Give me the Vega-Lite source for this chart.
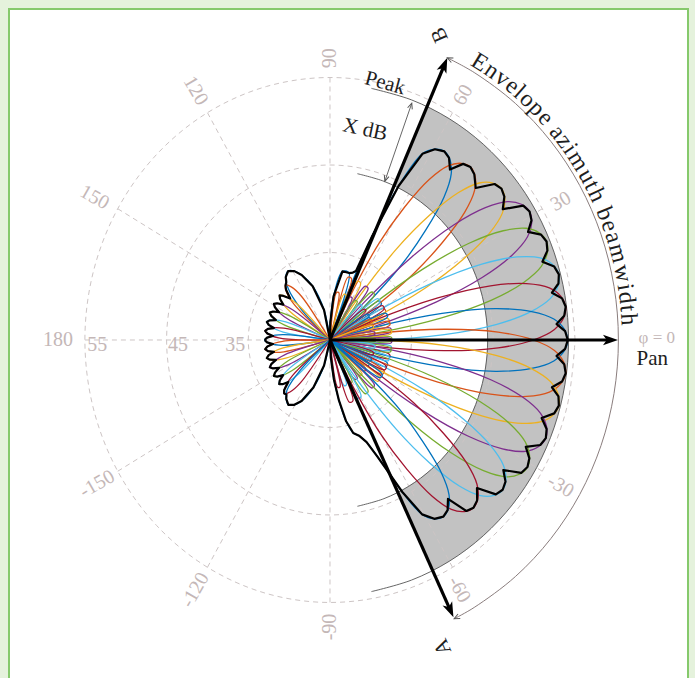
{
"$schema":"https://vega.github.io/schema/vega-lite/v6.json",
"width":679,"height":680,
"autosize":{"type":"none"},
"padding":{"left":9,"top":9,"right":7,"bottom":0},
"background":"#e5f2dc",
"config":{"view":{"fill":"#ffffff","stroke":"#86c96c","strokeWidth":2}},
"datasets":{
"sector":[
{"i":0,"a":-64.5,"r":29.2},{"i":1,"a":-60,"r":29.2},{"i":2,"a":-55,"r":29.2},{"i":3,"a":-50,"r":29.2},{"i":4,"a":-45,"r":29.2},{"i":5,"a":-40,"r":29.2},{"i":6,"a":-35,"r":29.2},{"i":7,"a":-30,"r":29.2},{"i":8,"a":-25,"r":29.2},{"i":9,"a":-20,"r":29.2},{"i":10,"a":-15,"r":29.2},{"i":11,"a":-10,"r":29.2},{"i":12,"a":-5,"r":29.2},{"i":13,"a":0,"r":29.2},{"i":14,"a":5,"r":29.2},{"i":15,"a":10,"r":29.2},{"i":16,"a":15,"r":29.2},{"i":17,"a":20,"r":29.2},{"i":18,"a":25,"r":29.2},{"i":19,"a":30,"r":29.2},{"i":20,"a":35,"r":29.2},{"i":21,"a":40,"r":29.2},{"i":22,"a":45,"r":29.2},{"i":23,"a":50,"r":29.2},{"i":24,"a":55,"r":29.2},{"i":25,"a":60,"r":29.2},{"i":26,"a":65,"r":29.2},{"i":27,"a":66,"r":29.2},
{"i":28,"a":66,"r":19.3},{"i":29,"a":65,"r":19.3},{"i":30,"a":60,"r":19.3},{"i":31,"a":55,"r":19.3},{"i":32,"a":50,"r":19.3},{"i":33,"a":45,"r":19.3},{"i":34,"a":40,"r":19.3},{"i":35,"a":35,"r":19.3},{"i":36,"a":30,"r":19.3},{"i":37,"a":25,"r":19.3},{"i":38,"a":20,"r":19.3},{"i":39,"a":15,"r":19.3},{"i":40,"a":10,"r":19.3},{"i":41,"a":5,"r":19.3},{"i":42,"a":0,"r":19.3},{"i":43,"a":-5,"r":19.3},{"i":44,"a":-10,"r":19.3},{"i":45,"a":-15,"r":19.3},{"i":46,"a":-20,"r":19.3},{"i":47,"a":-25,"r":19.3},{"i":48,"a":-30,"r":19.3},{"i":49,"a":-35,"r":19.3},{"i":50,"a":-40,"r":19.3},{"i":51,"a":-45,"r":19.3},{"i":52,"a":-50,"r":19.3},{"i":53,"a":-55,"r":19.3},{"i":54,"a":-60,"r":19.3},{"i":55,"a":-64.5,"r":19.3}
],
"grid":[
{"k":"c10","a":0,"r":10},{"k":"c10","a":15,"r":10},{"k":"c10","a":30,"r":10},{"k":"c10","a":45,"r":10},{"k":"c10","a":60,"r":10},{"k":"c10","a":75,"r":10},{"k":"c10","a":90,"r":10},{"k":"c10","a":105,"r":10},{"k":"c10","a":120,"r":10},{"k":"c10","a":135,"r":10},{"k":"c10","a":150,"r":10},{"k":"c10","a":165,"r":10},{"k":"c10","a":180,"r":10},{"k":"c10","a":195,"r":10},{"k":"c10","a":210,"r":10},{"k":"c10","a":225,"r":10},{"k":"c10","a":240,"r":10},{"k":"c10","a":255,"r":10},{"k":"c10","a":270,"r":10},{"k":"c10","a":285,"r":10},{"k":"c10","a":300,"r":10},{"k":"c10","a":315,"r":10},{"k":"c10","a":330,"r":10},{"k":"c10","a":345,"r":10},{"k":"c10","a":360,"r":10},
{"k":"c20","a":0,"r":20},{"k":"c20","a":15,"r":20},{"k":"c20","a":30,"r":20},{"k":"c20","a":45,"r":20},{"k":"c20","a":60,"r":20},{"k":"c20","a":75,"r":20},{"k":"c20","a":90,"r":20},{"k":"c20","a":105,"r":20},{"k":"c20","a":120,"r":20},{"k":"c20","a":135,"r":20},{"k":"c20","a":150,"r":20},{"k":"c20","a":165,"r":20},{"k":"c20","a":180,"r":20},{"k":"c20","a":195,"r":20},{"k":"c20","a":210,"r":20},{"k":"c20","a":225,"r":20},{"k":"c20","a":240,"r":20},{"k":"c20","a":255,"r":20},{"k":"c20","a":270,"r":20},{"k":"c20","a":285,"r":20},{"k":"c20","a":300,"r":20},{"k":"c20","a":315,"r":20},{"k":"c20","a":330,"r":20},{"k":"c20","a":345,"r":20},{"k":"c20","a":360,"r":20},
{"k":"c30","a":0,"r":30},{"k":"c30","a":15,"r":30},{"k":"c30","a":30,"r":30},{"k":"c30","a":45,"r":30},{"k":"c30","a":60,"r":30},{"k":"c30","a":75,"r":30},{"k":"c30","a":90,"r":30},{"k":"c30","a":105,"r":30},{"k":"c30","a":120,"r":30},{"k":"c30","a":135,"r":30},{"k":"c30","a":150,"r":30},{"k":"c30","a":165,"r":30},{"k":"c30","a":180,"r":30},{"k":"c30","a":195,"r":30},{"k":"c30","a":210,"r":30},{"k":"c30","a":225,"r":30},{"k":"c30","a":240,"r":30},{"k":"c30","a":255,"r":30},{"k":"c30","a":270,"r":30},{"k":"c30","a":285,"r":30},{"k":"c30","a":300,"r":30},{"k":"c30","a":315,"r":30},{"k":"c30","a":330,"r":30},{"k":"c30","a":345,"r":30},{"k":"c30","a":360,"r":30}
],
"spokes":[{"a":0,"r":30},{"a":30,"r":30},{"a":60,"r":30},{"a":90,"r":30},{"a":120,"r":30},{"a":150,"r":30},{"a":180,"r":30},{"a":210,"r":30},{"a":240,"r":30},{"a":270,"r":30},{"a":300,"r":30},{"a":330,"r":30}],
"arcs":[
{"k":"pk","a":-80,"r":29.2},{"k":"pk","a":-70,"r":29.2},{"k":"pk","a":-60,"r":29.2},{"k":"pk","a":-50,"r":29.2},{"k":"pk","a":-40,"r":29.2},{"k":"pk","a":-30,"r":29.2},{"k":"pk","a":-20,"r":29.2},{"k":"pk","a":-10,"r":29.2},{"k":"pk","a":0,"r":29.2},{"k":"pk","a":10,"r":29.2},{"k":"pk","a":20,"r":29.2},{"k":"pk","a":30,"r":29.2},{"k":"pk","a":40,"r":29.2},{"k":"pk","a":50,"r":29.2},{"k":"pk","a":60,"r":29.2},{"k":"pk","a":70,"r":29.2},{"k":"pk","a":80,"r":29.2},
{"k":"in","a":-80,"r":19.3},{"k":"in","a":-70,"r":19.3},{"k":"in","a":-60,"r":19.3},{"k":"in","a":-50,"r":19.3},{"k":"in","a":-40,"r":19.3},{"k":"in","a":-30,"r":19.3},{"k":"in","a":-20,"r":19.3},{"k":"in","a":-10,"r":19.3},{"k":"in","a":0,"r":19.3},{"k":"in","a":10,"r":19.3},{"k":"in","a":20,"r":19.3},{"k":"in","a":30,"r":19.3},{"k":"in","a":40,"r":19.3},{"k":"in","a":50,"r":19.3},{"k":"in","a":60,"r":19.3},{"k":"in","a":70,"r":19.3},{"k":"in","a":80,"r":19.3},
{"k":"xdb","a":69.7,"r":19.4},{"k":"xdb","a":69.7,"r":28.8},
{"k":"bw","a":-64.5,"r":35.3},{"k":"bw","a":-60,"r":35.3},{"k":"bw","a":-50,"r":35.3},{"k":"bw","a":-40,"r":35.3},{"k":"bw","a":-30,"r":35.3},{"k":"bw","a":-20,"r":35.3},{"k":"bw","a":-10,"r":35.3},{"k":"bw","a":0,"r":35.3},{"k":"bw","a":10,"r":35.3},{"k":"bw","a":20,"r":35.3},{"k":"bw","a":30,"r":35.3},{"k":"bw","a":40,"r":35.3},{"k":"bw","a":50,"r":35.3},{"k":"bw","a":60,"r":35.3},{"k":"bw","a":66,"r":35.3}
],
"beams":[
{"b":1,"a":22,"r":0},{"b":1,"a":24.5,"r":5.5},{"b":1,"a":27.5,"r":5.5},{"b":1,"a":30.25,"r":0},{"b":1,"a":33,"r":7.5},{"b":1,"a":36.5,"r":7.5},{"b":1,"a":40,"r":0},{"b":1,"a":42,"r":5.1},{"b":1,"a":44.5,"r":12.35},{"b":1,"a":47,"r":17.2},{"b":1,"a":49.5,"r":21.5},{"b":1,"a":52,"r":24.1},{"b":1,"a":54.5,"r":25.3},{"b":1,"a":57,"r":25.7},{"b":1,"a":59.5,"r":25.3},{"b":1,"a":62,"r":24.1},{"b":1,"a":64.5,"r":19.5},{"b":1,"a":66.5,"r":13},{"b":1,"a":68,"r":6},{"b":1,"a":69.5,"r":0},{"b":1,"a":73,"r":8},{"b":1,"a":79,"r":8},{"b":1,"a":85,"r":5},{"b":1,"a":89,"r":2},{"b":1,"a":91,"r":0},
{"b":1,"a":96,"r":0},{"b":1,"a":102,"r":3.5},{"b":1,"a":109,"r":6.5},{"b":1,"a":115,"r":8.2},{"b":1,"a":119,"r":9},{"b":1,"a":123,"r":9.4},{"b":1,"a":127,"r":9},{"b":1,"a":131,"r":7.8},{"b":1,"a":135,"r":5},{"b":1,"a":139,"r":0},
{"b":2,"a":14,"r":0},{"b":2,"a":16.5,"r":5.5},{"b":2,"a":19.5,"r":5.5},{"b":2,"a":22.25,"r":0},{"b":2,"a":25,"r":7.5},{"b":2,"a":28.5,"r":7.5},{"b":2,"a":32,"r":0},{"b":2,"a":34,"r":5.2},{"b":2,"a":36.5,"r":12.6},{"b":2,"a":39,"r":17.7},{"b":2,"a":41.5,"r":22},{"b":2,"a":44,"r":24.6},{"b":2,"a":46.5,"r":25.8},{"b":2,"a":49,"r":26.2},{"b":2,"a":51.5,"r":25.8},{"b":2,"a":54,"r":24.6},{"b":2,"a":56.5,"r":22},{"b":2,"a":59,"r":17.7},{"b":2,"a":61.5,"r":12.6},{"b":2,"a":64,"r":5.2},{"b":2,"a":66,"r":0},{"b":2,"a":69.5,"r":7.5},{"b":2,"a":73,"r":7.5},{"b":2,"a":75.75,"r":0},{"b":2,"a":78.5,"r":5.5},{"b":2,"a":81.5,"r":5.5},{"b":2,"a":84,"r":0},
{"b":2,"a":121,"r":0},{"b":2,"a":125,"r":6.1},{"b":2,"a":128,"r":7.7},{"b":2,"a":131,"r":8.3},{"b":2,"a":134,"r":7.7},{"b":2,"a":137,"r":6.1},{"b":2,"a":141,"r":0},
{"b":3,"a":4.5,"r":0},{"b":3,"a":7,"r":5.5},{"b":3,"a":10,"r":5.5},{"b":3,"a":12.75,"r":0},{"b":3,"a":15.5,"r":7.5},{"b":3,"a":19,"r":7.5},{"b":3,"a":22.5,"r":0},{"b":3,"a":24.5,"r":5.4},{"b":3,"a":27,"r":13.1},{"b":3,"a":29.5,"r":18.7},{"b":3,"a":32,"r":23},{"b":3,"a":34.5,"r":25.6},{"b":3,"a":37,"r":26.8},{"b":3,"a":39.5,"r":27.2},{"b":3,"a":42,"r":26.8},{"b":3,"a":44.5,"r":25.6},{"b":3,"a":47,"r":23},{"b":3,"a":49.5,"r":18.7},{"b":3,"a":52,"r":13.1},{"b":3,"a":54.5,"r":5.4},{"b":3,"a":56.5,"r":0},{"b":3,"a":60,"r":7.5},{"b":3,"a":63.5,"r":7.5},{"b":3,"a":66.25,"r":0},{"b":3,"a":69,"r":5.5},{"b":3,"a":72,"r":5.5},{"b":3,"a":74.5,"r":0},
{"b":3,"a":130.5,"r":0},{"b":3,"a":134.5,"r":5.8},{"b":3,"a":137.5,"r":7.4},{"b":3,"a":140.5,"r":8},{"b":3,"a":143.5,"r":7.4},{"b":3,"a":146.5,"r":5.8},{"b":3,"a":150.5,"r":0},
{"b":4,"a":-4,"r":0},{"b":4,"a":-1.5,"r":5.5},{"b":4,"a":1.5,"r":5.5},{"b":4,"a":4.25,"r":0},{"b":4,"a":7,"r":7.5},{"b":4,"a":10.5,"r":7.5},{"b":4,"a":14,"r":0},{"b":4,"a":16,"r":5.7},{"b":4,"a":18.5,"r":13.75},{"b":4,"a":21,"r":20},{"b":4,"a":23.5,"r":24.3},{"b":4,"a":26,"r":26.9},{"b":4,"a":28.5,"r":28.1},{"b":4,"a":31,"r":28.5},{"b":4,"a":33.5,"r":28.1},{"b":4,"a":36,"r":26.9},{"b":4,"a":38.5,"r":24.3},{"b":4,"a":41,"r":20},{"b":4,"a":43.5,"r":13.75},{"b":4,"a":46,"r":5.7},{"b":4,"a":48,"r":0},{"b":4,"a":51.5,"r":7.5},{"b":4,"a":55,"r":7.5},{"b":4,"a":57.75,"r":0},{"b":4,"a":60.5,"r":5.5},{"b":4,"a":63.5,"r":5.5},{"b":4,"a":66,"r":0},
{"b":4,"a":139,"r":0},{"b":4,"a":143,"r":5.8},{"b":4,"a":146,"r":7.4},{"b":4,"a":149,"r":8},{"b":4,"a":152,"r":7.4},{"b":4,"a":155,"r":5.8},{"b":4,"a":159,"r":0},
{"b":5,"a":-12,"r":0},{"b":5,"a":-9.5,"r":5.5},{"b":5,"a":-6.5,"r":5.5},{"b":5,"a":-3.75,"r":0},{"b":5,"a":-1,"r":7.5},{"b":5,"a":2.5,"r":7.5},{"b":5,"a":6,"r":0},{"b":5,"a":8,"r":5.8},{"b":5,"a":10.5,"r":13.9},{"b":5,"a":13,"r":20.3},{"b":5,"a":15.5,"r":24.6},{"b":5,"a":18,"r":27.2},{"b":5,"a":20.5,"r":28.4},{"b":5,"a":23,"r":28.8},{"b":5,"a":25.5,"r":28.4},{"b":5,"a":28,"r":27.2},{"b":5,"a":30.5,"r":24.6},{"b":5,"a":33,"r":20.3},{"b":5,"a":35.5,"r":13.9},{"b":5,"a":38,"r":5.8},{"b":5,"a":40,"r":0},{"b":5,"a":43.5,"r":7.5},{"b":5,"a":47,"r":7.5},{"b":5,"a":49.75,"r":0},{"b":5,"a":52.5,"r":5.5},{"b":5,"a":55.5,"r":5.5},{"b":5,"a":58,"r":0},
{"b":5,"a":147,"r":0},{"b":5,"a":151,"r":5.8},{"b":5,"a":154,"r":7.4},{"b":5,"a":157,"r":8},{"b":5,"a":160,"r":7.4},{"b":5,"a":163,"r":5.8},{"b":5,"a":167,"r":0},
{"b":6,"a":-20,"r":0},{"b":6,"a":-17.5,"r":5.5},{"b":6,"a":-14.5,"r":5.5},{"b":6,"a":-11.75,"r":0},{"b":6,"a":-9,"r":7.5},{"b":6,"a":-5.5,"r":7.5},{"b":6,"a":-2,"r":0},{"b":6,"a":0,"r":5.8},{"b":6,"a":2.5,"r":14},{"b":6,"a":5,"r":20.5},{"b":6,"a":7.5,"r":24.8},{"b":6,"a":10,"r":27.4},{"b":6,"a":12.5,"r":28.6},{"b":6,"a":15,"r":29},{"b":6,"a":17.5,"r":28.6},{"b":6,"a":20,"r":27.4},{"b":6,"a":22.5,"r":24.8},{"b":6,"a":25,"r":20.5},{"b":6,"a":27.5,"r":14},{"b":6,"a":30,"r":5.8},{"b":6,"a":32,"r":0},{"b":6,"a":35.5,"r":7.5},{"b":6,"a":39,"r":7.5},{"b":6,"a":41.75,"r":0},{"b":6,"a":44.5,"r":5.5},{"b":6,"a":47.5,"r":5.5},{"b":6,"a":50,"r":0},
{"b":6,"a":155,"r":0},{"b":6,"a":159,"r":5.8},{"b":6,"a":162,"r":7.4},{"b":6,"a":165,"r":8},{"b":6,"a":168,"r":7.4},{"b":6,"a":171,"r":5.8},{"b":6,"a":175,"r":0},
{"b":7,"a":-27.5,"r":0},{"b":7,"a":-25,"r":5.5},{"b":7,"a":-22,"r":5.5},{"b":7,"a":-19.25,"r":0},{"b":7,"a":-16.5,"r":7.5},{"b":7,"a":-13,"r":7.5},{"b":7,"a":-9.5,"r":0},{"b":7,"a":-7.5,"r":5.8},{"b":7,"a":-5,"r":14.05},{"b":7,"a":-2.5,"r":20.6},{"b":7,"a":0,"r":24.9},{"b":7,"a":2.5,"r":27.5},{"b":7,"a":5,"r":28.7},{"b":7,"a":7.5,"r":29.1},{"b":7,"a":10,"r":28.7},{"b":7,"a":12.5,"r":27.5},{"b":7,"a":15,"r":24.9},{"b":7,"a":17.5,"r":20.6},{"b":7,"a":20,"r":14.05},{"b":7,"a":22.5,"r":5.8},{"b":7,"a":24.5,"r":0},{"b":7,"a":28,"r":7.5},{"b":7,"a":31.5,"r":7.5},{"b":7,"a":34.25,"r":0},{"b":7,"a":37,"r":5.5},{"b":7,"a":40,"r":5.5},{"b":7,"a":42.5,"r":0},
{"b":7,"a":162.5,"r":0},{"b":7,"a":166.5,"r":5.8},{"b":7,"a":169.5,"r":7.4},{"b":7,"a":172.5,"r":8},{"b":7,"a":175.5,"r":7.4},{"b":7,"a":178.5,"r":5.8},{"b":7,"a":182.5,"r":0},
{"b":8,"a":-35,"r":0},{"b":8,"a":-32.5,"r":5.5},{"b":8,"a":-29.5,"r":5.5},{"b":8,"a":-26.75,"r":0},{"b":8,"a":-24,"r":7.5},{"b":8,"a":-20.5,"r":7.5},{"b":8,"a":-17,"r":0},{"b":8,"a":-15,"r":5.8},{"b":8,"a":-12.5,"r":14.05},{"b":8,"a":-10,"r":20.6},{"b":8,"a":-7.5,"r":24.9},{"b":8,"a":-5,"r":27.5},{"b":8,"a":-2.5,"r":28.7},{"b":8,"a":0,"r":29.1},{"b":8,"a":2.5,"r":28.7},{"b":8,"a":5,"r":27.5},{"b":8,"a":7.5,"r":24.9},{"b":8,"a":10,"r":20.6},{"b":8,"a":12.5,"r":14.05},{"b":8,"a":15,"r":5.8},{"b":8,"a":17,"r":0},{"b":8,"a":20.5,"r":7.5},{"b":8,"a":24,"r":7.5},{"b":8,"a":26.75,"r":0},{"b":8,"a":29.5,"r":5.5},{"b":8,"a":32.5,"r":5.5},{"b":8,"a":35,"r":0},
{"b":8,"a":170,"r":0},{"b":8,"a":174,"r":5.8},{"b":8,"a":177,"r":7.4},{"b":8,"a":180,"r":8},{"b":8,"a":183,"r":7.4},{"b":8,"a":186,"r":5.8},{"b":8,"a":190,"r":0},
{"b":9,"a":-42.5,"r":0},{"b":9,"a":-40,"r":5.5},{"b":9,"a":-37,"r":5.5},{"b":9,"a":-34.25,"r":0},{"b":9,"a":-31.5,"r":7.5},{"b":9,"a":-28,"r":7.5},{"b":9,"a":-24.5,"r":0},{"b":9,"a":-22.5,"r":5.8},{"b":9,"a":-20,"r":14.05},{"b":9,"a":-17.5,"r":20.6},{"b":9,"a":-15,"r":24.9},{"b":9,"a":-12.5,"r":27.5},{"b":9,"a":-10,"r":28.7},{"b":9,"a":-7.5,"r":29.1},{"b":9,"a":-5,"r":28.7},{"b":9,"a":-2.5,"r":27.5},{"b":9,"a":0,"r":24.9},{"b":9,"a":2.5,"r":20.6},{"b":9,"a":5,"r":14.05},{"b":9,"a":7.5,"r":5.8},{"b":9,"a":9.5,"r":0},{"b":9,"a":13,"r":7.5},{"b":9,"a":16.5,"r":7.5},{"b":9,"a":19.25,"r":0},{"b":9,"a":22,"r":5.5},{"b":9,"a":25,"r":5.5},{"b":9,"a":27.5,"r":0},
{"b":9,"a":177.5,"r":0},{"b":9,"a":181.5,"r":5.8},{"b":9,"a":184.5,"r":7.4},{"b":9,"a":187.5,"r":8},{"b":9,"a":190.5,"r":7.4},{"b":9,"a":193.5,"r":5.8},{"b":9,"a":197.5,"r":0},
{"b":10,"a":-50,"r":0},{"b":10,"a":-47.5,"r":5.5},{"b":10,"a":-44.5,"r":5.5},{"b":10,"a":-41.75,"r":0},{"b":10,"a":-39,"r":7.5},{"b":10,"a":-35.5,"r":7.5},{"b":10,"a":-32,"r":0},{"b":10,"a":-30,"r":5.8},{"b":10,"a":-27.5,"r":14},{"b":10,"a":-25,"r":20.5},{"b":10,"a":-22.5,"r":24.8},{"b":10,"a":-20,"r":27.4},{"b":10,"a":-17.5,"r":28.6},{"b":10,"a":-15,"r":29},{"b":10,"a":-12.5,"r":28.6},{"b":10,"a":-10,"r":27.4},{"b":10,"a":-7.5,"r":24.8},{"b":10,"a":-5,"r":20.5},{"b":10,"a":-2.5,"r":14},{"b":10,"a":0,"r":5.8},{"b":10,"a":2,"r":0},{"b":10,"a":5.5,"r":7.5},{"b":10,"a":9,"r":7.5},{"b":10,"a":11.75,"r":0},{"b":10,"a":14.5,"r":5.5},{"b":10,"a":17.5,"r":5.5},{"b":10,"a":20,"r":0},
{"b":10,"a":185,"r":0},{"b":10,"a":189,"r":5.8},{"b":10,"a":192,"r":7.4},{"b":10,"a":195,"r":8},{"b":10,"a":198,"r":7.4},{"b":10,"a":201,"r":5.8},{"b":10,"a":205,"r":0},
{"b":11,"a":-58,"r":0},{"b":11,"a":-55.5,"r":5.5},{"b":11,"a":-52.5,"r":5.5},{"b":11,"a":-49.75,"r":0},{"b":11,"a":-47,"r":7.5},{"b":11,"a":-43.5,"r":7.5},{"b":11,"a":-40,"r":0},{"b":11,"a":-38,"r":5.7},{"b":11,"a":-35.5,"r":13.85},{"b":11,"a":-33,"r":20.2},{"b":11,"a":-30.5,"r":24.5},{"b":11,"a":-28,"r":27.1},{"b":11,"a":-25.5,"r":28.3},{"b":11,"a":-23,"r":28.7},{"b":11,"a":-20.5,"r":28.3},{"b":11,"a":-18,"r":27.1},{"b":11,"a":-15.5,"r":24.5},{"b":11,"a":-13,"r":20.2},{"b":11,"a":-10.5,"r":13.85},{"b":11,"a":-8,"r":5.7},{"b":11,"a":-6,"r":0},{"b":11,"a":-2.5,"r":7.5},{"b":11,"a":1,"r":7.5},{"b":11,"a":3.75,"r":0},{"b":11,"a":6.5,"r":5.5},{"b":11,"a":9.5,"r":5.5},{"b":11,"a":12,"r":0},
{"b":11,"a":193,"r":0},{"b":11,"a":197,"r":5.8},{"b":11,"a":200,"r":7.4},{"b":11,"a":203,"r":8},{"b":11,"a":206,"r":7.4},{"b":11,"a":209,"r":5.8},{"b":11,"a":213,"r":0},
{"b":12,"a":-66,"r":0},{"b":12,"a":-63.5,"r":5.5},{"b":12,"a":-60.5,"r":5.5},{"b":12,"a":-57.75,"r":0},{"b":12,"a":-55,"r":7.5},{"b":12,"a":-51.5,"r":7.5},{"b":12,"a":-48,"r":0},{"b":12,"a":-46,"r":5.6},{"b":12,"a":-43.5,"r":13.6},{"b":12,"a":-41,"r":19.7},{"b":12,"a":-38.5,"r":24},{"b":12,"a":-36,"r":26.6},{"b":12,"a":-33.5,"r":27.8},{"b":12,"a":-31,"r":28.2},{"b":12,"a":-28.5,"r":27.8},{"b":12,"a":-26,"r":26.6},{"b":12,"a":-23.5,"r":24},{"b":12,"a":-21,"r":19.7},{"b":12,"a":-18.5,"r":13.6},{"b":12,"a":-16,"r":5.6},{"b":12,"a":-14,"r":0},{"b":12,"a":-10.5,"r":7.5},{"b":12,"a":-7,"r":7.5},{"b":12,"a":-4.25,"r":0},{"b":12,"a":-1.5,"r":5.5},{"b":12,"a":1.5,"r":5.5},{"b":12,"a":4,"r":0},
{"b":12,"a":201,"r":0},{"b":12,"a":205,"r":5.8},{"b":12,"a":208,"r":7.4},{"b":12,"a":211,"r":8},{"b":12,"a":214,"r":7.4},{"b":12,"a":217,"r":5.8},{"b":12,"a":221,"r":0},
{"b":13,"a":-74,"r":0},{"b":13,"a":-71.5,"r":5.5},{"b":13,"a":-68.5,"r":5.5},{"b":13,"a":-65.75,"r":0},{"b":13,"a":-63,"r":7.5},{"b":13,"a":-59.5,"r":7.5},{"b":13,"a":-56,"r":0},{"b":13,"a":-54,"r":5.4},{"b":13,"a":-51.5,"r":13.1},{"b":13,"a":-49,"r":18.7},{"b":13,"a":-46.5,"r":23},{"b":13,"a":-44,"r":25.6},{"b":13,"a":-41.5,"r":26.8},{"b":13,"a":-39,"r":27.2},{"b":13,"a":-36.5,"r":26.8},{"b":13,"a":-34,"r":25.6},{"b":13,"a":-31.5,"r":23},{"b":13,"a":-29,"r":18.7},{"b":13,"a":-26.5,"r":13.1},{"b":13,"a":-24,"r":5.4},{"b":13,"a":-22,"r":0},{"b":13,"a":-18.5,"r":7.5},{"b":13,"a":-15,"r":7.5},{"b":13,"a":-12.25,"r":0},{"b":13,"a":-9.5,"r":5.5},{"b":13,"a":-6.5,"r":5.5},{"b":13,"a":-4,"r":0},
{"b":13,"a":209,"r":0},{"b":13,"a":213,"r":5.8},{"b":13,"a":216,"r":7.4},{"b":13,"a":219,"r":8},{"b":13,"a":222,"r":7.4},{"b":13,"a":225,"r":5.8},{"b":13,"a":229,"r":0},
{"b":14,"a":-82.5,"r":0},{"b":14,"a":-80,"r":5.5},{"b":14,"a":-77,"r":5.5},{"b":14,"a":-74.25,"r":0},{"b":14,"a":-71.5,"r":7.5},{"b":14,"a":-68,"r":7.5},{"b":14,"a":-64.5,"r":0},{"b":14,"a":-62.5,"r":5.2},{"b":14,"a":-60,"r":12.5},{"b":14,"a":-57.5,"r":17.5},{"b":14,"a":-55,"r":21.8},{"b":14,"a":-52.5,"r":24.4},{"b":14,"a":-50,"r":25.6},{"b":14,"a":-47.5,"r":26},{"b":14,"a":-45,"r":25.6},{"b":14,"a":-42.5,"r":24.4},{"b":14,"a":-40,"r":21.8},{"b":14,"a":-37.5,"r":17.5},{"b":14,"a":-35,"r":12.5},{"b":14,"a":-32.5,"r":5.2},{"b":14,"a":-30.5,"r":0},{"b":14,"a":-27,"r":7.5},{"b":14,"a":-23.5,"r":7.5},{"b":14,"a":-20.75,"r":0},{"b":14,"a":-18,"r":5.5},{"b":14,"a":-15,"r":5.5},{"b":14,"a":-12.5,"r":0},
{"b":14,"a":217.5,"r":0},{"b":14,"a":221.5,"r":6.1},{"b":14,"a":224.5,"r":7.7},{"b":14,"a":227.5,"r":8.3},{"b":14,"a":230.5,"r":7.7},{"b":14,"a":233.5,"r":6.1},{"b":14,"a":237.5,"r":0},
{"b":15,"a":-90,"r":0},{"b":15,"a":-87,"r":2},{"b":15,"a":-84,"r":4.5},{"b":15,"a":-81,"r":7},{"b":15,"a":-78,"r":9.5},{"b":15,"a":-75,"r":11},{"b":15,"a":-72,"r":11.5},{"b":15,"a":-69,"r":12.5},{"b":15,"a":-66.5,"r":14.5},{"b":15,"a":-64.5,"r":17},{"b":15,"a":-63,"r":19.5},{"b":15,"a":-60.5,"r":22.9},{"b":15,"a":-58,"r":24.1},{"b":15,"a":-55.5,"r":24.5},{"b":15,"a":-53,"r":24.1},{"b":15,"a":-50.5,"r":22.9},{"b":15,"a":-48,"r":20.3},{"b":15,"a":-45.5,"r":16},{"b":15,"a":-43,"r":11.75},{"b":15,"a":-40.5,"r":4.9},{"b":15,"a":-38.5,"r":0},{"b":15,"a":-35,"r":7.5},{"b":15,"a":-31.5,"r":7.5},{"b":15,"a":-28.75,"r":0},{"b":15,"a":-26,"r":5.5},{"b":15,"a":-23,"r":5.5},{"b":15,"a":-20.5,"r":0},
{"b":15,"a":219.5,"r":0},{"b":15,"a":223.5,"r":5},{"b":15,"a":227.5,"r":7.8},{"b":15,"a":231.5,"r":8.6},{"b":15,"a":235.5,"r":9},{"b":15,"a":239.5,"r":8.6},{"b":15,"a":243.5,"r":7.8},{"b":15,"a":249.5,"r":5.8},{"b":15,"a":256,"r":3},{"b":15,"a":263,"r":0}
],
"env":[
{"a":-180,"r":8},{"a":-178,"r":7.7},{"a":-176.25,"r":7},{"a":-174.5,"r":7.7},{"a":-172.5,"r":8},{"a":-170.5,"r":7.7},{"a":-168.75,"r":7},{"a":-167,"r":7.7},{"a":-165,"r":8},{"a":-163,"r":7.7},{"a":-161,"r":7},{"a":-159,"r":7.7},{"a":-157,"r":8},{"a":-155,"r":7.7},{"a":-153,"r":7},{"a":-151,"r":7.7},{"a":-149,"r":8},{"a":-147,"r":7.7},{"a":-145,"r":7},{"a":-143,"r":7.7},{"a":-141,"r":8},{"a":-139,"r":7.7},{"a":-136.75,"r":7},{"a":-134.5,"r":8},{"a":-132.5,"r":8.3},{"a":-130.5,"r":8.2},{"a":-128.5,"r":8.6},{"a":-124.5,"r":9},{"a":-120.5,"r":8.6},{"a":-116.5,"r":7.8},{"a":-110.5,"r":5.8},{"a":-104,"r":3},{"a":-97,"r":0},
{"a":-90,"r":0},{"a":-87,"r":2},{"a":-84,"r":4.5},{"a":-81,"r":7},{"a":-78,"r":9.5},{"a":-75,"r":11},{"a":-72,"r":11.5},{"a":-69,"r":12.5},{"a":-66.5,"r":14.5},{"a":-64.5,"r":17},{"a":-63,"r":19.5},{"a":-60.5,"r":22.9},{"a":-58,"r":24.1},{"a":-55.5,"r":24.5},{"a":-53.5,"r":24.2},{"a":-51.5,"r":23.2},{"a":-49.5,"r":25.7},{"a":-47.5,"r":26},{"a":-45.5,"r":25.7},{"a":-43.25,"r":24.7},{"a":-41,"r":26.9},{"a":-39,"r":27.2},{"a":-37,"r":26.9},{"a":-35,"r":25.9},{"a":-33,"r":27.9},{"a":-31,"r":28.2},{"a":-29,"r":27.9},{"a":-27,"r":26.9},{"a":-25,"r":28.4},{"a":-23,"r":28.7},{"a":-21,"r":28.4},{"a":-19,"r":27.4},{"a":-17,"r":28.7},{"a":-15,"r":29},{"a":-13,"r":28.7},{"a":-11.25,"r":27.7},{"a":-9.5,"r":28.8},{"a":-7.5,"r":29.1},{"a":-5.5,"r":28.8},{"a":-3.75,"r":27.8},{"a":-2,"r":28.8},{"a":0,"r":29.1},{"a":2,"r":28.8},{"a":3.75,"r":27.8},{"a":5.5,"r":28.8},{"a":7.5,"r":29.1},{"a":9.5,"r":28.8},{"a":11.25,"r":27.7},{"a":13,"r":28.7},{"a":15,"r":29},{"a":17,"r":28.7},{"a":19,"r":27.5},{"a":21,"r":28.5},{"a":23,"r":28.8},{"a":25,"r":28.5},{"a":27,"r":27.2},{"a":29,"r":28.2},{"a":31,"r":28.5},{"a":33,"r":28.2},{"a":35.25,"r":25.9},{"a":37.5,"r":26.9},{"a":39.5,"r":27.2},{"a":41.5,"r":26.9},{"a":44.25,"r":24.9},{"a":47,"r":25.9},{"a":49,"r":26.2},{"a":51,"r":25.9},{"a":53,"r":24.4},{"a":55,"r":25.4},{"a":57,"r":25.7},{"a":59.5,"r":25.3},{"a":62,"r":24.1},{"a":64.5,"r":19.5},{"a":66.5,"r":13},{"a":68,"r":8.5},{"a":70,"r":8.2},{"a":73,"r":8},{"a":79,"r":8},{"a":85,"r":5},{"a":89,"r":2},{"a":91,"r":0},
{"a":96,"r":0},{"a":102,"r":3.5},{"a":109,"r":6.5},{"a":115,"r":8.2},{"a":119,"r":9},{"a":123,"r":9.4},{"a":127,"r":9},{"a":129,"r":8.5},{"a":131,"r":8.3},{"a":133,"r":7.9},{"a":135.75,"r":6.8},{"a":138.5,"r":7.6},{"a":140.5,"r":8},{"a":142.5,"r":7.7},{"a":144.75,"r":7},{"a":147,"r":7.7},{"a":149,"r":8},{"a":151,"r":7.7},{"a":153,"r":7},{"a":155,"r":7.7},{"a":157,"r":8},{"a":159,"r":7.7},{"a":161,"r":7},{"a":163,"r":7.7},{"a":165,"r":8},{"a":167,"r":7.7},{"a":168.75,"r":7},{"a":170.5,"r":7.7},{"a":172.5,"r":8},{"a":174.5,"r":7.7},{"a":176.25,"r":7},{"a":178,"r":7.7},{"a":180,"r":8}
],
"arrows":[{"k":"pan","a":0,"r":35.25},{"k":"B","a":66,"r":35.3},{"k":"A","a":-64.5,"r":35.1}],
"heads":[{"a":66,"r":35.3,"ta":156},{"a":-64.5,"r":35.3,"ta":-154.5},{"a":69.7,"r":28.85,"ta":69.7},{"a":69.7,"r":19.35,"ta":249.7}],
"labels":[{"t":"90","a":90,"r":32.2},{"t":"60","a":59.8,"r":32.4},{"t":"30","a":29.3,"r":32.4},{"t":"-30","a":-30.6,"r":32.8},{"t":"-60","a":-61,"r":32.6},{"t":"-90","a":-90,"r":32.8},{"t":"-120","a":-120,"r":33},{"t":"-150","a":-150,"r":32.9},{"t":"180","a":180,"r":33.3},{"t":"150","a":150.5,"r":33.1},{"t":"120","a":120,"r":32.9}],
"plain":[{"t":"55","a":181.2,"r":28.5},{"t":"45","a":181.8,"r":18.6},{"t":"35","a":183,"r":11.6}],
"phi":[{"t":"φ = 0","a":0.3,"r":40}],
"notes":[{"t":"Peak","a":77.1,"r":30.1},{"t":"X dB","a":79.9,"r":24.4},{"t":"B","a":68.9,"r":37.4},{"t":"A","a":-68.5,"r":37.7},{"t":"Pan","a":-3.2,"r":39.5}],
"envtext":[{"c":"E","a":60,"r":36.6},{"c":"n","a":57.25,"r":36.6},{"c":"v","a":54.8,"r":36.6},{"c":"e","a":52.45,"r":36.6},{"c":"l","a":50.7,"r":36.6},{"c":"o","a":48.7,"r":36.6},{"c":"p","a":46.3,"r":36.6},{"c":"e","a":43.9,"r":36.6},{"c":"a","a":40.5,"r":36.6},{"c":"z","a":38.4,"r":36.6},{"c":"i","a":36.6,"r":36.6},{"c":"m","a":34,"r":36.6},{"c":"u","a":30.8,"r":36.6},{"c":"t","a":28.9,"r":36.6},{"c":"h","a":26.9,"r":36.6},{"c":"b","a":23.2,"r":36.6},{"c":"e","a":20.9,"r":36.6},{"c":"a","a":18.7,"r":36.6},{"c":"m","a":15.7,"r":36.6},{"c":"w","a":12,"r":36.6},{"c":"i","a":9.5,"r":36.6},{"c":"d","a":7.6,"r":36.6},{"c":"t","a":5.7,"r":36.6},{"c":"h","a":3.7,"r":36.6}]
},
"encoding":{
"x":{"field":"x","type":"quantitative","scale":{"domain":[-39.29,43.82],"nice":false,"zero":false},"axis":null},
"y":{"field":"y","type":"quantitative","scale":{"domain":[-39.89,37.83],"nice":false,"zero":false},"axis":null}
},
"layer":[
{"data":{"name":"sector"},"transform":[{"calculate":"datum.r*cos(datum.a*PI/180)","as":"x"},{"calculate":"datum.r*sin(datum.a*PI/180)","as":"y"}],
 "mark":{"type":"line","fill":"#c2c2c2","stroke":"#c2c2c2","strokeWidth":0.5},"encoding":{"order":{"field":"i","type":"quantitative"}}},
{"data":{"name":"grid"},"transform":[{"calculate":"datum.r*cos(datum.a*PI/180)","as":"x"},{"calculate":"datum.r*sin(datum.a*PI/180)","as":"y"}],
 "mark":{"type":"line","interpolate":"catmull-rom","stroke":"#cdc5c5","strokeWidth":1,"strokeDash":[5,4]},"encoding":{"detail":{"field":"k"},"order":{"field":"a","type":"quantitative"}}},
{"data":{"name":"spokes"},"transform":[{"calculate":"datum.r*cos(datum.a*PI/180)","as":"x"},{"calculate":"datum.r*sin(datum.a*PI/180)","as":"y"}],
 "mark":{"type":"rule","stroke":"#cdc5c5","strokeWidth":1,"strokeDash":[5,4]},"encoding":{"x2":{"datum":0},"y2":{"datum":0}}},
{"data":{"name":"arcs"},"transform":[{"filter":"datum.k != 'bw'"},{"calculate":"datum.r*cos(datum.a*PI/180)","as":"x"},{"calculate":"datum.r*sin(datum.a*PI/180)","as":"y"}],
 "mark":{"type":"line","interpolate":"catmull-rom","stroke":"#555555","strokeWidth":0.9},"encoding":{"detail":{"field":"k"},"order":{"field":"a","type":"quantitative"}}},
{"data":{"name":"arcs"},"transform":[{"filter":"datum.k == 'bw'"},{"calculate":"datum.r*cos(datum.a*PI/180)","as":"x"},{"calculate":"datum.r*sin(datum.a*PI/180)","as":"y"}],
 "mark":{"type":"line","interpolate":"catmull-rom","stroke":"#8a7d7d","strokeWidth":1},"encoding":{"order":{"field":"a","type":"quantitative"}}},
{"data":{"name":"beams"},"transform":[{"calculate":"datum.r*cos(datum.a*PI/180)","as":"x"},{"calculate":"datum.r*sin(datum.a*PI/180)","as":"y"}],
 "mark":{"type":"line","interpolate":"catmull-rom","strokeWidth":1.3},
 "encoding":{"color":{"field":"b","type":"nominal","scale":{"domain":[1,2,3,4,5,6,7,8,9,10,11,12,13,14,15],"range":["#0072BD","#D95319","#EDB120","#7E2F8E","#77AC30","#4DBEEE","#A2142F","#0072BD","#D95319","#EDB120","#7E2F8E","#77AC30","#4DBEEE","#A2142F","#0072BD"]},"legend":null},"order":{"field":"a","type":"quantitative"}}},
{"data":{"name":"env"},"transform":[{"calculate":"datum.r*cos(datum.a*PI/180)","as":"x"},{"calculate":"datum.r*sin(datum.a*PI/180)","as":"y"}],
 "mark":{"type":"line","stroke":"#000000","strokeWidth":2.2,"strokeJoin":"round"},"encoding":{"order":{"field":"a","type":"quantitative"}}},
{"data":{"name":"arrows"},"transform":[{"calculate":"(datum.r-1)*cos(datum.a*PI/180)","as":"x"},{"calculate":"(datum.r-1)*sin(datum.a*PI/180)","as":"y"}],
 "mark":{"type":"rule","stroke":"#000000","strokeWidth":3.2},"encoding":{"x2":{"datum":0},"y2":{"datum":0}}},
{"data":{"name":"arrows"},"transform":[{"calculate":"datum.r*cos(datum.a*PI/180)","as":"x"},{"calculate":"datum.r*sin(datum.a*PI/180)","as":"y"},{"calculate":"atan2(-8.75*sin(datum.a*PI/180), 8.17*cos(datum.a*PI/180))*180/PI","as":"rot"}],
 "mark":{"type":"point","shape":"M0,0L-2,-0.7L-1.5,0L-2,0.7Z","filled":true,"color":"#000000","size":225,"opacity":1},"encoding":{"angle":{"field":"rot","type":"quantitative","scale":null}}},
{"data":{"name":"heads"},"transform":[{"calculate":"datum.r*cos(datum.a*PI/180)","as":"x"},{"calculate":"datum.r*sin(datum.a*PI/180)","as":"y"},{"calculate":"atan2(-8.75*sin(datum.ta*PI/180), 8.17*cos(datum.ta*PI/180))*180/PI","as":"rot"}],
 "mark":{"type":"point","shape":"M-1.6,-0.7L0,0L-1.6,0.7","filled":false,"stroke":"#555555","strokeWidth":1,"size":49,"opacity":1},"encoding":{"angle":{"field":"rot","type":"quantitative","scale":null}}},
{"data":{"name":"labels"},"transform":[{"calculate":"datum.r*cos(datum.a*PI/180)","as":"x"},{"calculate":"datum.r*sin(datum.a*PI/180)","as":"y"},{"calculate":"(datum.a > -90 && datum.a <= 90) ? -datum.a : 180 - datum.a","as":"rot"}],
 "mark":{"type":"text","font":"Liberation Serif","fontSize":20,"color":"#c4b7b7","align":"center","baseline":"middle"},"encoding":{"text":{"field":"t"},"angle":{"field":"rot","type":"quantitative","scale":null}}},
{"data":{"name":"plain"},"transform":[{"calculate":"datum.r*cos(datum.a*PI/180)","as":"x"},{"calculate":"datum.r*sin(datum.a*PI/180)","as":"y"}],
 "mark":{"type":"text","font":"Liberation Serif","fontSize":20,"color":"#c4b7b7","align":"center","baseline":"middle"},"encoding":{"text":{"field":"t"}}},
{"data":{"name":"phi"},"transform":[{"calculate":"datum.r*cos(datum.a*PI/180)","as":"x"},{"calculate":"datum.r*sin(datum.a*PI/180)","as":"y"}],
 "mark":{"type":"text","font":"Liberation Serif","fontSize":17,"color":"#c4b7b7","align":"center","baseline":"middle"},"encoding":{"text":{"field":"t"}}},
{"data":{"name":"notes"},"transform":[{"filter":"datum.t == 'Peak'"},{"calculate":"datum.r*cos(datum.a*PI/180)","as":"x"},{"calculate":"datum.r*sin(datum.a*PI/180)","as":"y"}],
 "mark":{"type":"text","font":"Liberation Serif","fontSize":21,"color":"#1e1e1e","align":"center","baseline":"middle","angle":15},"encoding":{"text":{"field":"t"}}},
{"data":{"name":"notes"},"transform":[{"filter":"datum.t == 'X dB'"},{"calculate":"datum.r*cos(datum.a*PI/180)","as":"x"},{"calculate":"datum.r*sin(datum.a*PI/180)","as":"y"}],
 "mark":{"type":"text","font":"Liberation Serif","fontSize":21,"color":"#1e1e1e","align":"center","baseline":"middle","angle":12},"encoding":{"text":{"field":"t"}}},
{"data":{"name":"notes"},"transform":[{"filter":"datum.t == 'B'"},{"calculate":"datum.r*cos(datum.a*PI/180)","as":"x"},{"calculate":"datum.r*sin(datum.a*PI/180)","as":"y"}],
 "mark":{"type":"text","font":"Liberation Serif","fontSize":21,"color":"#1e1e1e","align":"center","baseline":"middle","angle":-114},"encoding":{"text":{"field":"t"}}},
{"data":{"name":"notes"},"transform":[{"filter":"datum.t == 'A'"},{"calculate":"datum.r*cos(datum.a*PI/180)","as":"x"},{"calculate":"datum.r*sin(datum.a*PI/180)","as":"y"}],
 "mark":{"type":"text","font":"Liberation Serif","fontSize":21,"color":"#1e1e1e","align":"center","baseline":"middle","angle":-114},"encoding":{"text":{"field":"t"}}},
{"data":{"name":"notes"},"transform":[{"filter":"datum.t == 'Pan'"},{"calculate":"datum.r*cos(datum.a*PI/180)","as":"x"},{"calculate":"datum.r*sin(datum.a*PI/180)","as":"y"}],
 "mark":{"type":"text","font":"Liberation Serif","fontSize":21,"color":"#1e1e1e","align":"center","baseline":"middle"},"encoding":{"text":{"field":"t"}}},
{"data":{"name":"envtext"},"transform":[{"calculate":"datum.r*cos(datum.a*PI/180)","as":"x"},{"calculate":"datum.r*sin(datum.a*PI/180)","as":"y"},{"calculate":"atan2(8.75*cos(datum.a*PI/180), 8.17*sin(datum.a*PI/180))*180/PI","as":"rot"}],
 "mark":{"type":"text","font":"Liberation Serif","fontSize":24,"color":"#1e1e1e","align":"center","baseline":"middle"},"encoding":{"text":{"field":"c"},"angle":{"field":"rot","type":"quantitative","scale":null}}}
]
}
